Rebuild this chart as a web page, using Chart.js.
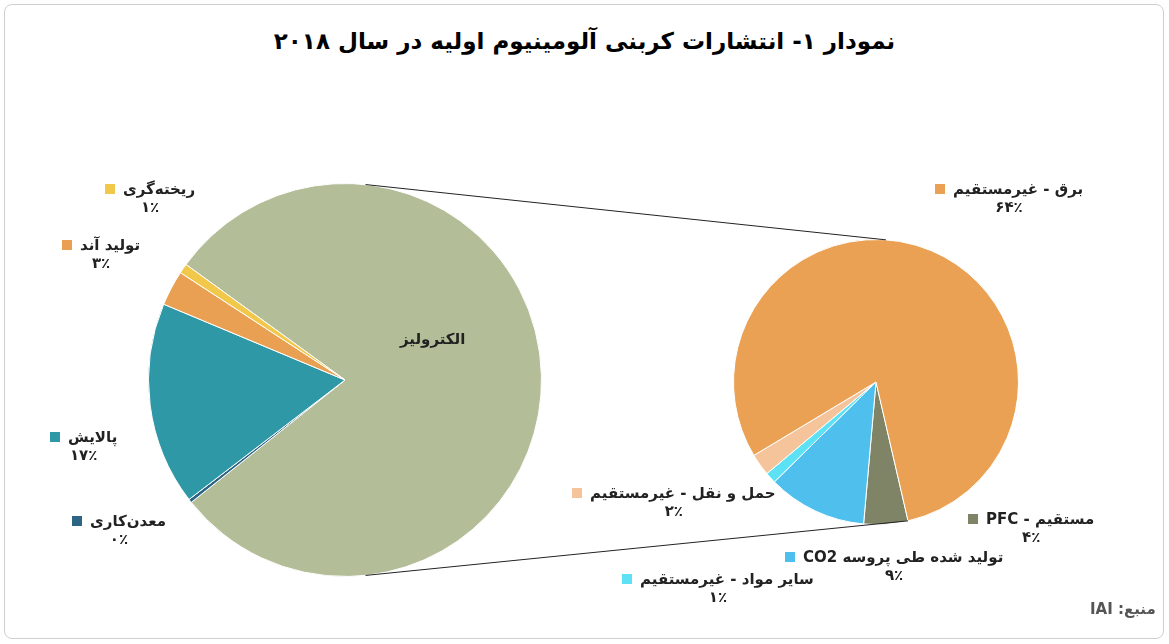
<!DOCTYPE html>
<html><head><meta charset="utf-8">
<script src="https://cdn.jsdelivr.net/npm/chart.js@4"></script>
<style>
body{margin:0;width:1169px;height:644px;background:#fff;font-family:"DejaVu Sans",sans-serif;position:relative;overflow:hidden}
#frame{position:absolute;left:4px;top:4px;width:1158px;height:633px;border:1px solid #cfcfcf;border-radius:8px}
.box{position:absolute}
.t{position:absolute;font-weight:bold;font-size:15px;color:#222;direction:rtl;white-space:nowrap;text-align:center}
.sq{display:inline-block;width:10px;height:10px;margin-right:8px}
#title{position:absolute;top:28px;left:0;width:1169px;text-align:center;font-weight:bold;font-size:23px;direction:rtl}
#lines{position:absolute;left:0;top:0;pointer-events:none}
</style></head><body>
<div id="frame"></div>
<div id="title">نمودار ۱- انتشارات کربنی آلومینیوم اولیه در سال ۲۰۱۸</div>
<div class="box" style="left:148px;top:183px;width:394px;height:394px"><canvas id="left"></canvas></div>
<div class="box" style="left:733px;top:239px;width:286px;height:286px"><canvas id="right"></canvas></div>
<canvas id="lines" width="1169" height="644"></canvas>

<div class="t" style="left:400px;top:330px">الکترولیز</div>
<div class="t" style="left:105px;top:180px">ریخته‌گری<span class="sq" style="background:#f2c84b"></span><br>۱٪</div>
<div class="t" style="left:62px;top:236px">تولید آند<span class="sq" style="background:#e9a052"></span><br>۳٪</div>
<div class="t" style="left:50px;top:428px">پالایش<span class="sq" style="background:#2f98a6"></span><br>۱۷٪</div>
<div class="t" style="left:72px;top:512px">معدن‌کاری<span class="sq" style="background:#2d6584"></span><br>۰٪</div>

<div class="t" style="left:935px;top:180px">برق - غیرمستقیم<span class="sq" style="background:#eaa154"></span><br>۶۴٪</div>
<div class="t" style="left:572px;top:484px">حمل و نقل - غیرمستقیم<span class="sq" style="background:#f5c49a"></span><br>۲٪</div>
<div class="t" style="left:968px;top:510px">مستقیم - PFC<span class="sq" style="background:#7f8466"></span><br>۴٪</div>
<div class="t" style="left:785px;top:548px">تولید شده طی پروسه CO2<span class="sq" style="background:#4fbfee"></span><br>۹٪</div>
<div class="t" style="left:622px;top:570px">سایر مواد - غیرمستقیم<span class="sq" style="background:#5ce2f4"></span><br>۱٪</div>
<div class="t" style="left:1090px;top:600px;color:#555">منبع: IAI</div>

<script>
var leftLabels = ['الکترولیز', 'معدن‌کاری', 'پالایش', 'تولید آند', 'ریخته‌گری'];
var leftValues = [79.3, 0.3, 16.7, 2.9, 0.8];
var leftColors = ['#b3bd98', '#2d6584', '#2f98a6', '#e9a052', '#f2c84b'];

var rightLabels = ['PFC - مستقیم', 'CO2 تولید شده طی پروسه', 'سایر مواد - غیرمستقیم', 'حمل و نقل - غیرمستقیم', 'برق - غیرمستقیم'];
var rightValues = [4, 9, 1, 2, 64];
var rightColors = ['#7f8466', '#4fbfee', '#5ce2f4', '#f5c49a', '#eaa154'];

function pie(id, labels, values, colors, rot){
    return new Chart(document.getElementById(id), {
        type: 'pie',
        data: {labels: labels, datasets: [{data: values, backgroundColor: colors, borderColor: '#fff', borderWidth: 1}]},
        options: {
            responsive: true, maintainAspectRatio: false, animation: false,
            rotation: rot, layout: {padding: 0},
            plugins: {legend: {display: false}, tooltip: {enabled: false}}
        }
    });
}
var lc = pie('left', leftLabels, leftValues, leftColors, 306);
var rc = pie('right', rightLabels, rightValues, rightColors, 167);

// connector lines from the big slice to the exploded pie
function pt(chart, boxLeft, boxTop, deg){
    var a = chart.getDatasetMeta(0).data[0];
    var r = a.outerRadius, t = deg * Math.PI / 180;
    return [boxLeft + a.x + r * Math.cos(t), boxTop + a.y + r * Math.sin(t)];
}
var ctx = document.getElementById('lines').getContext('2d');
ctx.strokeStyle = '#222'; ctx.lineWidth = 1;
var a1 = pt(lc, 148, 183, -84), b1 = pt(rc, 733, 239, -86);
var a2 = pt(lc, 148, 183, 84), b2 = pt(rc, 733, 239, 77);
ctx.beginPath(); ctx.moveTo(a1[0], a1[1]); ctx.lineTo(b1[0], b1[1]);
ctx.moveTo(a2[0], a2[1]); ctx.lineTo(b2[0], b2[1]); ctx.stroke();
</script>
</body></html>
